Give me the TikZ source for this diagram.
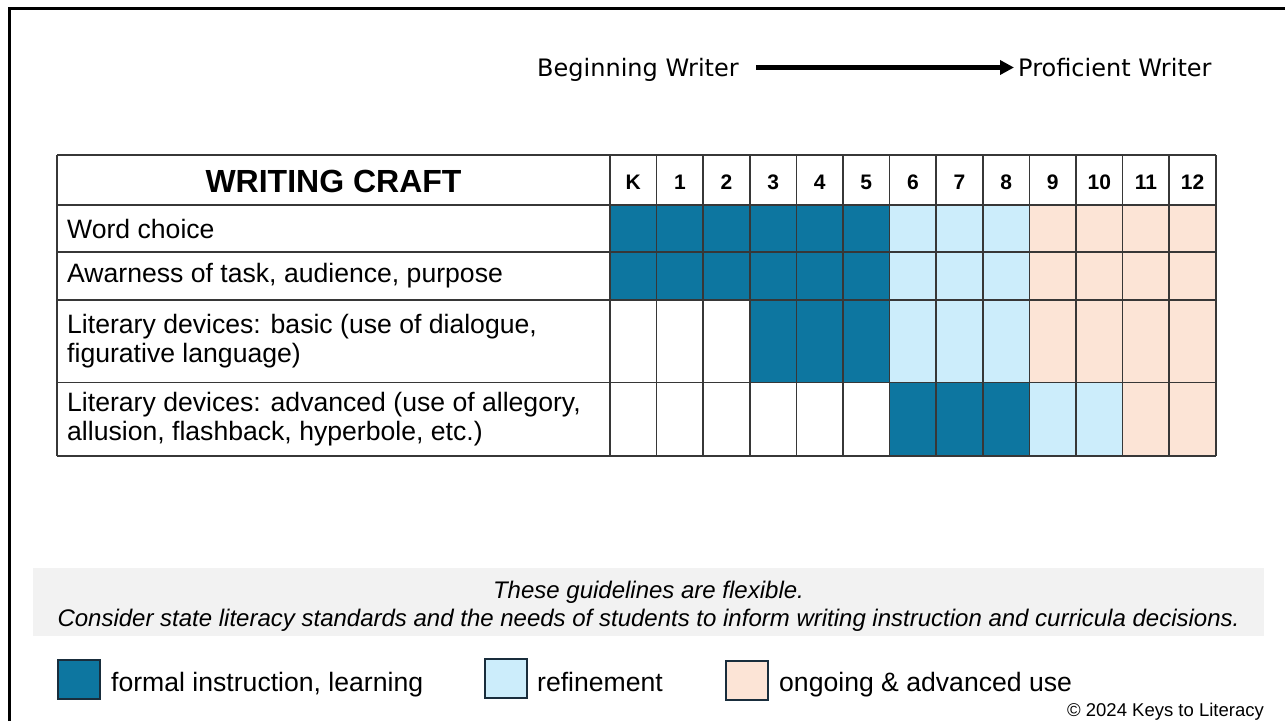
\documentclass[tikz,border=0pt]{standalone}
\usepackage{fontspec}
\setmainfont{Liberation Sans}
\newfontfamily\verd{DejaVu Sans}
\usetikzlibrary{arrows.meta,calc}
\definecolor{dblue}{RGB}{13,118,160}
\definecolor{lblue}{RGB}{204,237,251}
\definecolor{peach}{RGB}{252,228,214}
\definecolor{bandgray}{RGB}{242,242,242}
\definecolor{gridcol}{RGB}{55,55,55}
\definecolor{lgborder}{RGB}{25,45,60}
\begin{document}
\begin{tikzpicture}[x=1pt,y=-1pt,
  rowlabel/.style={anchor=west,inner sep=0pt,align=left,font=\fontsize{26.6}{29}\selectfont},
  gradelabel/.style={inner sep=0pt,font=\bfseries\fontsize{21}{21}\selectfont},
  toplabel/.style={anchor=west,inner sep=0pt,text height=17.5pt,text depth=0pt,font=\verd\fontsize{24}{24}\selectfont},
  legbox/.style={draw=lgborder,line width=2pt,minimum width=42pt,minimum height=39pt,inner sep=0pt},
  legtext/.style={anchor=base west,inner sep=0pt,font=\fontsize{26.6}{29}\selectfont},
  gridline/.style={draw=gridcol,line width=1.6pt}
]
\useasboundingbox (0,0) rectangle (1285,721);
\fill[white] (0,0) rectangle (1285,721);
% frame
\draw[line width=3pt,line join=miter] (9,721) -- (9,8.5) -- (1285,8.5);

% top arrow
\node[toplabel] (beg) at (537,67.5) {Beginning Writer};
\node[toplabel] (prof) at (1018,67.5) {Proficient Writer};
\draw[line width=4.5pt,-{Triangle[length=14pt,width=14pt]},shorten <=17.5pt,shorten >=4pt] (beg.east) -- (prof.west);

% table cells
\fill[dblue] (610,205) rectangle (889.6,300);
\fill[lblue] (889.6,205) rectangle (1029.4,382.5);
\fill[peach] (1029.4,205) rectangle (1216,382.5);
\fill[dblue] (749.8,300) rectangle (889.6,382.5);
\fill[dblue] (889.6,382.5) rectangle (1029.4,456);
\fill[lblue] (1029.4,382.5) rectangle (1122.6,456);
\fill[peach] (1122.6,382.5) rectangle (1216,456);

% grid
\foreach \yy in {155,205,252,300,382.5,456}
  \draw[gridline] (57,\yy) -- (1216,\yy);
\draw[gridline] (57,155) -- (57,456);
\foreach \i in {0,...,13}
  \draw[gridline] ({610+46.6*\i},155) -- ({610+46.6*\i},456);

% header
\node[inner sep=0pt,font=\bfseries\fontsize{32}{32}\selectfont] (title) at (333.5,181) {WRITING CRAFT};
\foreach \g [count=\i from 0] in {K,1,2,3,4,5,6,7,8,9,10,11,12}
  \node[gradelabel] (g\i) at ({610+46.6*\i+23.3},182.5) {\g};

% row labels
\node[rowlabel] (r1) at (67,228.5) {Word choice};
\node[rowlabel] (r2) at (67,276) {Awarness of task, audience, purpose};
\node[rowlabel] (r3) at (67,341) {Literary devices: basic (use of dialogue,\\figurative language)};
\node[rowlabel] (r4) at (67,419) {Literary devices: advanced (use of allegory,\\allusion, flashback, hyperbole, etc.)};

% note band
\fill[bandgray] (33,568) rectangle (1264,636);
\node[inner sep=0pt,align=center,font=\itshape\fontsize{24}{28}\selectfont] (note) at (648.5,606) {These guidelines are flexible.\\Consider state literacy standards and the needs of students to inform writing instruction and curricula decisions.};

% legend
\node[legbox,fill=dblue] (lb1) at (79,679.5) {};
\node[legtext] (lt1) at (111,691) {formal instruction, learning};
\node[legbox,fill=lblue] (lb2) at (506,678.5) {};
\node[legtext] (lt2) at (537,691) {refinement};
\node[legbox,fill=peach] (lb3) at (746.5,680) {};
\node[legtext] (lt3) at (779,691) {ongoing \& advanced use};

% copyright
\node[anchor=base east,inner sep=0pt,font=\fontsize{18.5}{18.5}\selectfont] (copy) at (1264,716.5) {\textcopyright{} 2024 Keys to Literacy};
\end{tikzpicture}
\end{document}
